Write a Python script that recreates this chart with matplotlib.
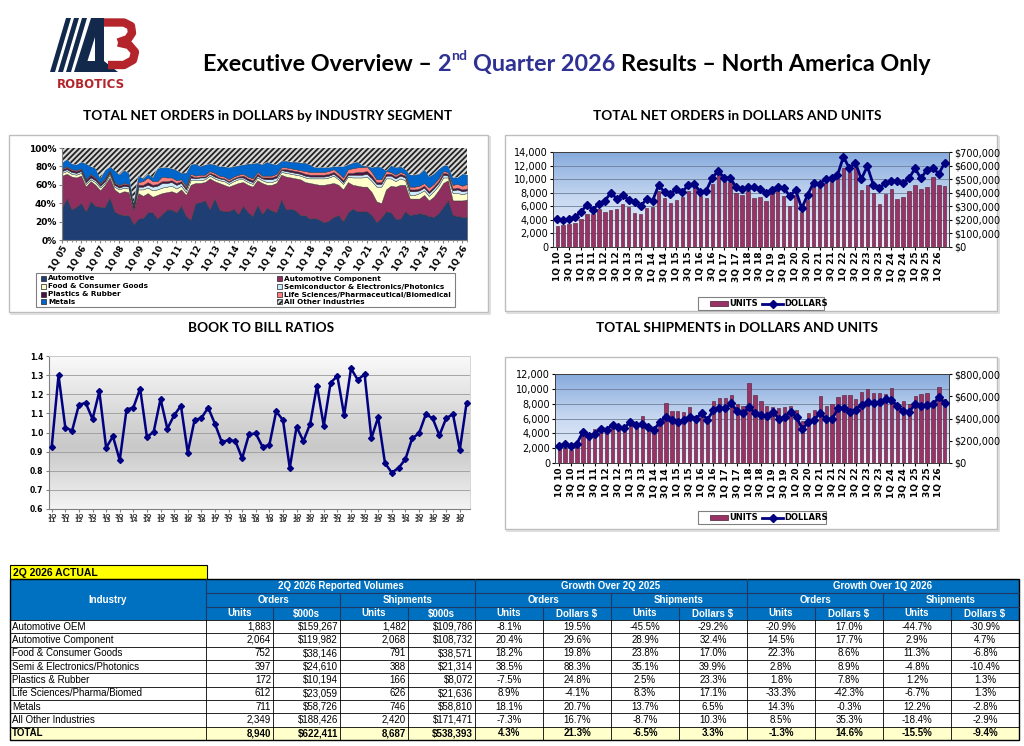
import numpy as np
import matplotlib
matplotlib.use("Agg")
import matplotlib.pyplot as plt
from matplotlib.patches import Rectangle, Polygon
from matplotlib.colors import LinearSegmentedColormap
from matplotlib.ticker import FuncFormatter

# ------------------------------------------------------------------ data
# Net orders share by industry segment (%), 1Q05 .. 2Q26 (86 quarters)
seg_auto = [35,45,33,36, 40,31,42,37, 36,36,46,31, 28,27,27,17, 23,24,30,30,
            23,28,33,33, 30,37,26,22, 40,41,43,33, 45,33,31,31, 34,28,37,30,
            26,38,28,35, 32,30,44,33, 34,32,27,27, 23,24,22,19, 21,25,27,20,
            30,34,31,31, 31,27,19,24, 31,30,23,23, 31,27,28,29, 28,26,25,29,
            36,43,27,26, 25,25]
# cumulative top of Automotive + Automotive Component (%)
seg_comp_top = [70,72,69,68, 70,58,64,60, 54,60,68,55, 51,53,52,33, 51,48,51,47,
                49,51,52,53, 51,55,49,60, 62,62,63,67, 64,62,60,58, 60,62,63,60,
                58,65,62,60, 60,62,71,69, 68,67,66,63, 62,61,60,60, 61,62,60,55,
                63,60,59,58, 58,52,42,40, 55,59,58,60, 60,45,45,45, 49,43,47,54,
                62,65,43,43, 43,44]
seg_food = [3,3,3,3, 3,3,2,3, 3,2,3,3, 4,4,4,1, 4,7,6,7, 6,6,6,6, 5,4,3,5,
            3,3,3,3, 3,3,4,3, 4,4,3,3, 3,3,3,3, 3,3,3,4, 4,4,4,5, 5,6,7,7,
            7,8,6,6, 6,8,9,10, 11,12,16,18, 12,8,6,7, 5,4,4,6, 5,5,6,5,
            6,3,8,8, 7,7]
seg_semi = [2,2,2,2, 2,2,2,2, 2,2,2,2, 2,2,2,1, 3,3,3,4, 4,5,4,4, 4,3,3,3,
            2,3,2,2, 2,2,2,2, 2,2,2,2, 2,2,2,3, 3,3,2,2, 2,2,2,2, 2,2,2,2,
            2,2,2,2, 2,3,3,3, 3,3,3,3, 3,3,3,3, 3,4,4,3, 3,3,3,3,
            3,2,3,4, 3,3]
seg_plast = [2,2,2,2, 2,2,3,2, 2,2,2,2, 2,2,2,1, 2,2,3,2, 2,2,2,2, 2,2,2,2,
             1,1,1,1, 2,1,1,1, 1,1,2,2, 2,2,1,2, 2,2,1,2, 2,2,2,2, 2,2,2,2,
             2,2,2,2, 2,2,3,3, 3,3,2,2, 2,2,2,2, 2,2,2,2, 2,2,2,2,
             2,2,2,2, 2,2]
seg_life = [1,1,1,1, 1,1,1,1, 1,1,1,1, 1,1,1,1, 3,4,5,4, 3,5,4,3, 3,2,2,2,
            2,2,2,2, 2,2,2,2, 2,2,2,2, 2,2,2,2, 2,2,2,2, 2,2,2,3, 3,3,3,3,
            3,3,3,3, 4,5,5,5, 5,4,3,3, 3,2,2,2, 2,3,3,3, 3,4,3,3,
            2,2,4,4, 4,5]
# cumulative top of Metals (= 100% minus All Other Industries)
seg_metals_top = [84,88,83,82, 85,83,80,78, 67,76,80,76, 71,76,73,40, 70,67,72,68,
                  78,79,79,78, 76,73,73,82, 83,80,82,83, 82,80,80,79, 80,81,82,83,
                  83,84,82,85, 83,82,86,86, 85,85,84,84, 82,79,79,79, 79,80,80,80,
                  82,84,85,81, 80,79,80,79, 75,81,79,80, 77,71,71,72, 77,69,72,77,
                  81,81,68,68, 72,71]
seg_names = ["Automotive", "Automotive Component", "Food & Consumer Goods",
             "Semiconductor & Electronics/Photonics", "Plastics & Rubber",
             "Life Sciences/Pharmaceutical/Biomedical", "Metals", "All Other Industries"]
seg_tick_labels = ["1Q 05","1Q 06","1Q 07","1Q 08","1Q 09","1Q 10","1Q 11","1Q 12",
                   "1Q 13","1Q 14","1Q 15","1Q 16","1Q 17","1Q 18","1Q 19","1Q 20",
                   "1Q 21","1Q 22","1Q 23","1Q 24","1Q 25","1Q 26"]

# Net orders, 1Q10 .. 2Q26 (66 quarters)
ord_units = [3100,3300,3400,3600, 4100,4900,4900,5600, 5100,5500,5600,6300,
             5900,5000,4900,5800, 5900,8300,7200,6500, 6900,7400,8300,8800,
             7500,7200,9300,10700, 9800,9600,8000,7700, 8200,7200,7400,6800,
             8000,8400,7500,6100, 7600,5200,6900,8800, 8900,9500,9800,10200,
             11600,11100,11800,8400, 9200,7900,6400,7800, 8600,7100,7400,8300,
             9100,8600,8800,10300, 9100,8940]
ord_dollars = [205000,200000,205000,220000, 260000,310000,275000,320000,
               340000,400000,355000,385000, 345000,335000,300000,355000,
               340000,455000,405000,390000, 430000,405000,460000,465000,
               405000,415000,510000,560000, 510000,510000,440000,425000,
               440000,440000,430000,395000, 420000,445000,435000,375000,
               420000,285000,385000,475000, 465000,500000,510000,530000,
               665000,580000,620000,500000, 595000,460000,435000,470000,
               490000,485000,470000,505000, 580000,505000,570000,580000,
               540000,622411]
# Shipments, 1Q10 .. 2Q26
ship_units = [2400,2000,1800,2300, 3800,3400,4600,4500, 4400,5000,4700,4600,
              5300,5100,6400,4800, 4200,5100,8100,7000, 7000,6900,7600,6400,
              6800,6000,8400,8800, 8800,9200,8000,7700, 10800,9200,8300,7700,
              7600,7400,7600,7700, 7200,5600,6700,7100, 9000,7700,8000,8900,
              9200,9200,8600,9600, 10000,9400,9400,9300, 10100,7400,8400,8000,
              9100,9300,9500,8200, 10300,8687]
ship_dollars = [150000,170000,150000,175000, 280000,240000,260000,310000,
                300000,345000,325000,315000, 370000,345000,350000,320000,
                300000,370000,415000,385000, 365000,390000,415000,400000,
                445000,390000,475000,490000, 490000,535000,465000,445000,
                500000,450000,430000,425000, 460000,400000,410000,460000,
                410000,305000,365000,390000, 450000,395000,395000,490000,
                495000,460000,480000,525000, 545000,535000,545000,575000,
                570000,510000,470000,460000, 530000,515000,525000,530000,
                590000,538393]
qtr_tick_labels = ["1Q 10","3Q 10","1Q 11","3Q 11","1Q 12","3Q 12","1Q 13","3Q 13",
                   "1Q 14","3Q 14","1Q 15","3Q 15","1Q 16","3Q 16","1Q 17","3Q 17",
                   "1Q 18","3Q 18","1Q 19","3Q 19","1Q 20","3Q 20","1Q 21","3Q 21",
                   "1Q 22","3Q 22","1Q 23","3Q 23","1Q 24","3Q 24","1Q 25","3Q 25",
                   "1Q 26"]

# Book to bill, 1Q11 .. 2Q26 (62 quarters)
btb = [0.925,1.30,1.025,1.01, 1.145,1.155,1.07,1.215, 0.92,0.98,0.855,1.12,
       1.13,1.23,0.975,1.005, 1.175,1.02,1.09,1.14, 0.895,1.065,1.075,1.13,
       1.045,0.95,0.96,0.955, 0.865,0.99,0.995,0.925, 0.935,1.11,1.065,0.815,
       1.03,0.955,1.045,1.245, 1.035,1.26,1.295,1.09, 1.335,1.275,1.305,0.97,
       1.08,0.84,0.79,0.815, 0.86,0.97,0.995,1.095, 1.075,0.985,1.075,1.095,
       0.91,1.155]
btb_tick_labels = ["1Q\n11","3Q\n11","1Q\n12","3Q\n12","1Q\n13","3Q\n13","1Q\n14","3Q\n14",
                   "1Q\n15","3Q\n15","1Q\n16","3Q\n16","1Q\n17","3Q\n17","1Q\n18","3Q\n18",
                   "1Q\n19","3Q\n19","1Q\n20","3Q\n20","1Q\n21","3Q\n21","1Q\n22","3Q\n22",
                   "1Q\n23","3Q\n23","1Q\n24","3Q\n24","1Q\n25","3Q\n25","1Q\n26"]

# Table
tbl_industry = ["Automotive OEM", "Automotive Component", "Food & Consumer Goods",
                "Semi & Electronics/Photonics", "Plastics & Rubber",
                "Life Sciences/Pharma/Biomed", "Metals", "All Other Industries", "TOTAL"]
tbl_ord_units = [1883, 2064, 752, 397, 172, 612, 711, 2349, 8940]
tbl_ord_usd = [159267, 119982, 38146, 24610, 10194, 23059, 58726, 188426, 622411]
tbl_ship_units = [1482, 2068, 791, 388, 166, 626, 746, 2420, 8687]
tbl_ship_usd = [109786, 108732, 38571, 21314, 8072, 21636, 58810, 171471, 538393]
yoy_ord_units = [-8.1, 20.4, 18.2, 38.5, -7.5, 8.9, 18.1, -7.3, 4.3]
yoy_ord_usd = [19.5, 29.6, 19.8, 88.3, 24.8, -4.1, 20.7, 16.7, 21.3]
yoy_ship_units = [-45.5, 28.9, 23.8, 35.1, 2.5, 8.3, 13.7, -8.7, -6.5]
yoy_ship_usd = [-29.2, 32.4, 17.0, 39.9, 23.3, 17.1, 6.5, 10.3, 3.3]
qoq_ord_units = [-20.9, 14.5, 22.3, 2.8, 1.8, -33.3, 14.3, 8.5, -1.3]
qoq_ord_usd = [17.0, 17.7, 8.6, 8.9, 7.8, -42.3, -0.3, 35.3, 14.6]
qoq_ship_units = [-44.7, 2.9, 11.3, -4.8, 1.2, -6.7, 12.2, -18.4, -15.5]
qoq_ship_usd = [-30.9, 4.7, -6.8, -10.4, 1.3, 1.3, -2.8, -2.9, -9.4]

# ------------------------------------------------------------------ setup
W, H = 1024, 746
plt.rcParams["hatch.color"] = "#222222"
plt.rcParams["hatch.linewidth"] = 1.3
fig = plt.figure(figsize=(W / 100, H / 100), dpi=100)
fig.patch.set_facecolor("white")
bg = fig.add_axes([0, 0, 1, 1], zorder=0)
bg.set_xlim(0, W)
bg.set_ylim(H, 0)
bg.axis("off")
renderer = fig.canvas.get_renderer()


def pax(x0, y0, x1, y1, z=2):
    return fig.add_axes([x0 / W, 1 - y1 / H, (x1 - x0) / W, (y1 - y0) / H], zorder=z)


def tw(s, **kw):
    t = bg.text(0, 0, s, **kw)
    w = t.get_window_extent(renderer=renderer).width
    t.remove()
    return w


NAVY = "#13294B"
RED = "#B3242B"
LINE_NAVY = "#000080"
BAR = "#993366"

# ------------------------------------------------------------------ logo
for i in range(3):
    bg.add_patch(Polygon([(50 + 8 * i, 72), (55 + 8 * i, 72), (71 + 8 * i, 18), (66 + 8 * i, 18)],
                         closed=True, fc=NAVY, ec="none"))
bg.plot([104, 124, 131, 132, 128, 118], [22.5, 22.5, 26, 33, 39, 42.5], color=RED, lw=6,
        solid_joinstyle="round", solid_capstyle="butt")
bg.plot([118, 129, 135, 133, 124, 108], [42.5, 45, 52, 60, 65, 65], color=RED, lw=6,
        solid_joinstyle="round", solid_capstyle="butt")
bg.add_patch(Polygon([(74, 72), (84, 72), (101, 18), (91, 18)], closed=True, fc=NAVY, ec="none"))
bg.add_patch(Polygon([(95, 18), (104, 18), (104, 61), (95, 61)], closed=True, fc=NAVY, ec="none"))
bg.add_patch(Polygon([(84, 61), (104, 61), (118, 72), (80, 72)], closed=True, fc=NAVY, ec="none"))
bg.text(91, 84, "ROBOTICS", color=RED, fontsize=8.5, fontweight="bold", ha="center", va="center",
        family="DejaVu Sans")

# ------------------------------------------------------------------ title
def tkw(fs):
    return dict(family="Lato", fontweight="bold", fontsize=fs)


def title_width(fs):
    k = tkw(fs)
    sp = tw("a a", **k) - tw("aa", **k)
    return (tw("Executive Overview \u2013 2", **k) + tw("nd", **tkw(fs * 0.6)) + sp
            + tw("Quarter 2026 Results \u2013 North America Only", **k))


fs_t = 16 * 732 / title_width(16)
k = tkw(fs_t)
TBLUE = "#2E3192"
x0, yb = 203, 71
sp = tw("a a", **k) - tw("aa", **k)
bg.text(x0, yb, "Executive Overview \u2013", color="black", va="baseline", **k)
x2 = x0 + tw("Executive Overview \u2013 2", **k) - tw("2", **k)
bg.text(x2, yb, "2", color=TBLUE, va="baseline", **k)
xnd = x0 + tw("Executive Overview \u2013 2", **k)
bg.text(xnd, yb - fs_t * 0.45 * 100 / 72, "nd", color=TBLUE, va="baseline", **tkw(fs_t * 0.6))
xq = xnd + tw("nd", **tkw(fs_t * 0.6)) + sp
bg.text(xq, yb, "Quarter 2026", color=TBLUE, va="baseline", **k)
xr = xq + tw("Quarter 2026 Results", **k) - tw("Results", **k)
bg.text(xr, yb, "Results \u2013 North America Only", color="black", va="baseline", **k)

# subtitles
fs_s = 10 * 367 / tw("TOTAL NET ORDERS in DOLLARS by INDUSTRY SEGMENT", **tkw(10))
for (cx, cy, s) in [(268, 116, "TOTAL NET ORDERS in DOLLARS by INDUSTRY SEGMENT"),
                    (737, 116, "TOTAL NET ORDERS in DOLLARS AND UNITS"),
                    (261, 328, "BOOK TO BILL RATIOS"),
                    (737, 328, "TOTAL SHIPMENTS in DOLLARS AND UNITS")]:
    bg.text(cx, cy, s, ha="center", va="center", color="black", **tkw(fs_s))

# frames
for (a, b, c, d) in [(9, 135, 488, 312), (505, 135, 997, 311), (505, 357, 997, 529)]:
    bg.add_patch(Rectangle((a, b), c - a, d - b, fill=False, ec="#BDBDBD", lw=1.0))
    bg.plot([a + 2, c + 1.5, c + 1.5], [d + 1.5, d + 1.5, b + 2], color="#D9D9D9", lw=1.2)

# ------------------------------------------------------------------ chart 1 : stacked share
ax1 = pax(62, 148, 467, 240)
xs = np.arange(len(seg_auto))
a_auto = np.array(seg_auto, float)
a_ctop = np.array(seg_comp_top, float)
a_food = np.array(seg_food, float)
a_semi = np.array(seg_semi, float)
a_plast = np.array(seg_plast, float)
a_life = np.array(seg_life, float)
a_mtop = np.array(seg_metals_top, float)
a_comp = a_ctop - a_auto
a_metals = np.clip(a_mtop - (a_ctop + a_food + a_semi + a_plast + a_life), 0.5, None)
a_other = 100 - (a_ctop + a_food + a_semi + a_plast + a_life + a_metals)
seg_colors = ["#1F3F74", "#8E2F5F", "#FFFFCC", "#CCEBFF", "#4A1442", "#FF7F7F", "#0066CC", "#D8D8D8"]
polys = ax1.stackplot(xs, a_auto, a_comp, a_food, a_semi, a_plast, a_life, a_metals, a_other,
                      colors=seg_colors, linewidth=0.3, edgecolor="#333333")
polys[-1].set_hatch("//////")
polys[-1].set_edgecolor("#222222")
polys[-1].set_linewidth(0.0)
ax1.set_xlim(0, len(seg_auto) - 1)
ax1.set_ylim(0, 100)
ax1.set_yticks([0, 20, 40, 60, 80, 100])
ax1.set_yticklabels(["0%", "20%", "40%", "60%", "80%", "100%"])
ax1.set_xticks(np.arange(0, len(seg_auto), 4))
ax1.set_xticklabels(seg_tick_labels, rotation=60, ha="right", rotation_mode="anchor")
ax1.set_xticks(xs, minor=True)
for lab in ax1.get_xticklabels() + ax1.get_yticklabels():
    lab.set_fontweight("bold")
ax1.tick_params(axis="y", labelsize=6.5, length=2, pad=2, color="#808080")
ax1.tick_params(axis="x", labelsize=6, length=2, pad=1, color="#808080")
ax1.tick_params(axis="x", which="minor", length=1.5, color="#808080")
for s in ["top", "right"]:
    ax1.spines[s].set_visible(False)
for s in ["left", "bottom"]:
    ax1.spines[s].set_color("#808080")
    ax1.spines[s].set_linewidth(0.8)

# legend 1
bg.add_patch(Rectangle((36, 273), 419, 34, fill=False, ec="#808080", lw=0.8))
leg_pos = [(41, 278.5), (277, 278.5), (41, 286.5), (277, 286.5),
           (41, 294.5), (277, 294.5), (41, 302), (277, 302)]
for i, (lx, ly) in enumerate(leg_pos):
    bg.add_patch(Rectangle((lx, ly - 2.6), 5, 5, fc=seg_colors[i], ec="#222222", lw=0.5,
                           hatch="//////" if i == 7 else None))
    bg.text(lx + 7, ly, seg_names[i], fontsize=5.2, fontweight="bold", va="center", ha="left",
            family="DejaVu Sans")

# ------------------------------------------------------------------ helpers
def gradient(ax, stops):
    cmap = LinearSegmentedColormap.from_list("g", stops)
    xl, yl = ax.get_xlim(), ax.get_ylim()
    ax.imshow(np.linspace(0, 1, 256).reshape(-1, 1), extent=[xl[0], xl[1], yl[0], yl[1]],
              origin="lower", aspect="auto", cmap=cmap, zorder=0)
    ax.set_xlim(xl)
    ax.set_ylim(yl)


def bar_line_chart(box, units, dollars, ymax, ystep, rmax, rstep, legend_box):
    ax = pax(*box)
    n = len(units)
    x = np.arange(n)
    ax.set_xlim(-0.7, n - 0.3)
    ax.set_ylim(0, ymax)
    gradient(ax, ["#EEF3FB", "#C9D9F1", "#86AADD"])
    for v in np.arange(ystep, ymax + 1, ystep):
        ax.axhline(v, color="#6F7F99", lw=0.6, zorder=1)
    ax.bar(x, units, width=0.55, color=BAR, edgecolor="#4D1A33", lw=0.4, zorder=2)
    ax.set_yticks(np.arange(0, ymax + 1, ystep))
    ax.yaxis.set_major_formatter(FuncFormatter(lambda v, p: "{:,.0f}".format(v)))
    ax.set_xticks(np.arange(0, n, 2))
    ax.set_xticklabels(qtr_tick_labels, rotation=90, fontweight="bold")
    ax.tick_params(axis="x", labelsize=6.5, length=2, pad=1.5)
    ax.tick_params(axis="y", labelsize=7, length=2, pad=1.5)
    for s in ax.spines.values():
        s.set_color("#404040")
        s.set_linewidth(0.7)
    axr = ax.twinx()
    axr.set_ylim(0, rmax)
    axr.plot(x, dollars, color=LINE_NAVY, lw=2.0, marker="D", ms=3.6, zorder=3)
    axr.set_yticks(np.arange(0, rmax + 1, rstep))
    axr.yaxis.set_major_formatter(FuncFormatter(lambda v, p: "${:,.0f}".format(v)))
    axr.tick_params(axis="y", labelsize=7, length=2, pad=1.5)
    for s in axr.spines.values():
        s.set_color("#404040")
        s.set_linewidth(0.7)
    # legend
    lx0, ly0, lx1, ly1 = legend_box
    cy = (ly0 + ly1) / 2
    bg.add_patch(Rectangle((lx0, ly0), lx1 - lx0, ly1 - ly0, fill=False, ec="#808080", lw=0.8))
    bg.add_patch(Rectangle((lx0 + 12, cy - 2.5), 18, 5, fc=BAR, ec="#4D1A33", lw=0.5))
    bg.text(lx0 + 31, cy, "UNITS", fontsize=6, fontweight="bold", va="center", family="DejaVu Sans")
    bg.plot([lx0 + 64, lx0 + 85], [cy, cy], color=LINE_NAVY, lw=2.0)
    bg.plot([lx0 + 74.5], [cy], color=LINE_NAVY, marker="D", ms=3.6)
    bg.text(lx0 + 86, cy, "DOLLARS", fontsize=6, fontweight="bold", va="center", family="DejaVu Sans")
    return ax


bar_line_chart((553, 152, 949, 247), ord_units, ord_dollars, 14000, 2000, 700000, 100000,
               (698, 297, 824, 310))
bar_line_chart((555, 374, 949, 463), ship_units, ship_dollars, 12000, 2000, 800000, 200000,
               (698, 511, 826, 524))

# ------------------------------------------------------------------ book to bill
ax3 = pax(49, 356, 470, 509)
xb = np.arange(len(btb))
ax3.set_xlim(-0.4, len(btb) - 0.5)
ax3.set_ylim(0.6, 1.4)
gradient(ax3, [(0.0, "#F4F4F4"), (0.4, "#C9C9C9"), (0.55, "#D2D2D2"), (1.0, "#FAFAFA")])
for v in np.arange(0.7, 1.41, 0.1):
    ax3.axhline(v, color="#9A9A9A", lw=0.6, zorder=1)
ax3.plot(xb, btb, color=LINE_NAVY, lw=1.8, marker="D", ms=3.0, zorder=3)
ax3.set_yticks(np.arange(0.6, 1.41, 0.1))
ax3.yaxis.set_major_formatter(FuncFormatter(lambda v, p: "{:.1f}".format(v)))
ax3.set_xticks(np.arange(0, len(btb), 2))
ax3.set_xticklabels(btb_tick_labels, fontweight="bold", linespacing=1.0, color="#333333")
for lab in ax3.get_yticklabels():
    lab.set_fontweight("bold")
ax3.tick_params(axis="y", labelsize=5.5, length=2, pad=2, color="#808080")
ax3.tick_params(axis="x", labelsize=4.4, length=2, pad=1, color="#808080")
for s in ["top", "right"]:
    ax3.spines[s].set_color("#D0D0D0")
    ax3.spines[s].set_linewidth(0.6)
for s in ["left", "bottom"]:
    ax3.spines[s].set_color("#808080")
    ax3.spines[s].set_linewidth(0.8)

# ------------------------------------------------------------------ table
TF = "Liberation Sans"
HB = "#0070C0"
HL = "#1F3864"
cx = [10, 206, 273, 340, 408, 475, 543, 611, 679, 747, 815, 883, 951, 1019]
ytop = 620
rh = 13.33
nrow = len(tbl_industry)
ybot = ytop + rh * nrow

bg.add_patch(Rectangle((10, 565), 197, 14, fc="#FFFF00", ec="black", lw=0.8))
bg.text(13, 572.5, "2Q 2026 ACTUAL", fontsize=7.5, fontweight="bold", family=TF, va="center")
bg.add_patch(Rectangle((10, 579), 1009, 41, fc=HB, ec="none"))

hk = dict(color="white", fontweight="bold", fontsize=7, family=TF, ha="center", va="center")
bg.text(108, 600, "Industry", **hk)
for (a, b, s) in [(1, 5, "2Q 2026 Reported Volumes"), (5, 9, "Growth Over 2Q 2025"),
                  (9, 13, "Growth Over 1Q 2026")]:
    bg.text((cx[a] + cx[b]) / 2, 586, s, **hk)
for j, s in enumerate(["Orders", "Shipments"] * 3):
    bg.text((cx[1 + 2 * j] + cx[3 + 2 * j]) / 2, 600, s, **hk)
sub_hdr = ["Units", "$000s", "Units", "$000s"] + ["Units", "Dollars $"] * 4
for j, s in enumerate(sub_hdr):
    bg.text((cx[1 + j] + cx[2 + j]) / 2, 613.5, s, **hk)
# header lines
bg.plot([206, 1019], [593, 593], color=HL, lw=0.8)
bg.plot([206, 1019], [607, 607], color=HL, lw=0.8)
for xv in [206, 475, 747]:
    bg.plot([xv, xv], [579, 620], color=HL, lw=0.8)
for xv in [340, 611, 883]:
    bg.plot([xv, xv], [593, 620], color=HL, lw=0.8)
for xv in [273, 408, 543, 679, 815, 951]:
    bg.plot([xv, xv], [607, 620], color=HL, lw=0.8)

# body
bg.add_patch(Rectangle((10, ytop + rh * (nrow - 1)), 1009, rh, fc="#FFFFCC", ec="none"))
for i in range(nrow + 1):
    bg.plot([10, 1019], [ytop + rh * i, ytop + rh * i], color="black", lw=0.6)
for xv in cx:
    bg.plot([xv, xv], [ytop, ybot], color="black", lw=0.6)
bg.add_patch(Rectangle((10, 579), 1009, ybot - 579, fill=False, ec="black", lw=1.0))

for i in range(nrow):
    yc = ytop + rh * (i + 0.5)
    wt = "bold" if i == nrow - 1 else "normal"
    dk = dict(fontsize=7, family=TF, va="center", fontweight=wt, color="black")
    bg.text(12, yc, tbl_industry[i], ha="left", **dk)
    vals = ["{:,}".format(tbl_ord_units[i]), "${:,}".format(tbl_ord_usd[i]),
            "{:,}".format(tbl_ship_units[i]), "${:,}".format(tbl_ship_usd[i])]
    for j, s in enumerate(vals):
        bg.text(cx[2 + j] - 2, yc, s, ha="right", **dk)
    pct = [yoy_ord_units[i], yoy_ord_usd[i], yoy_ship_units[i], yoy_ship_usd[i],
           qoq_ord_units[i], qoq_ord_usd[i], qoq_ship_units[i], qoq_ship_usd[i]]
    for j, v in enumerate(pct):
        bg.text((cx[5 + j] + cx[6 + j]) / 2, yc, "{:.1f}%".format(v), ha="center", **dk)

fig.savefig("out.png", dpi=100)
